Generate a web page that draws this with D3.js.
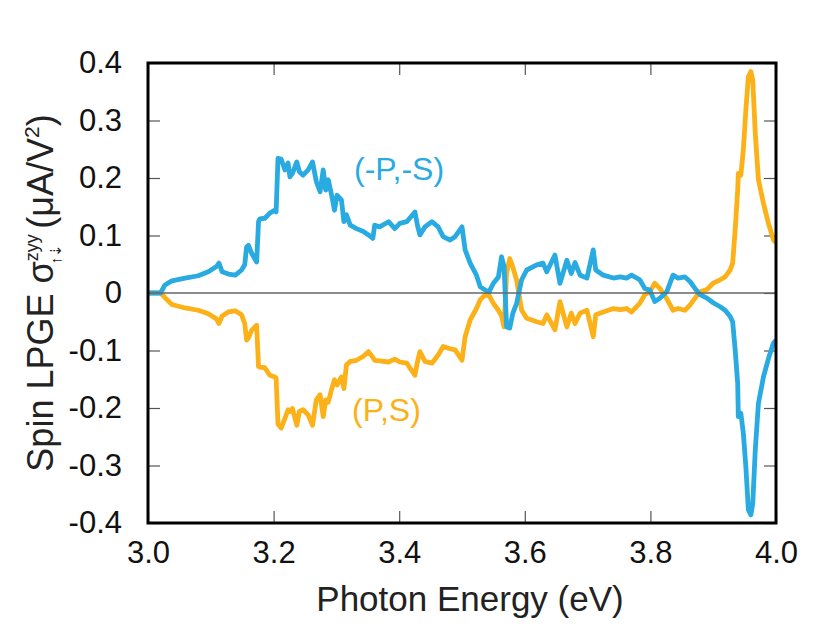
<!DOCTYPE html>
<html>
<head>
<meta charset="utf-8">
<script src="https://cdn.jsdelivr.net/npm/d3@7"></script>
<style>
  body { margin: 0; background: #fff; }
  text { font-family: "Liberation Sans", Arial, sans-serif; }
</style>
</head>
<body>
<div id="chart"></div>
<script>
// photon energy (eV)
const energy = [
  3.000, 3.020, 3.027, 3.038, 3.059, 3.080, 3.096, 3.109, 3.113, 3.118,
  3.128, 3.139, 3.149, 3.154, 3.157, 3.160, 3.165, 3.173, 3.176, 3.178,
  3.186, 3.194, 3.202, 3.204, 3.207, 3.212, 3.218, 3.223, 3.226, 3.230,
  3.237, 3.241, 3.247, 3.255, 3.262, 3.268, 3.274, 3.279, 3.283, 3.287,
  3.293, 3.297, 3.301, 3.308, 3.312, 3.316, 3.322, 3.332, 3.343, 3.351,
  3.358, 3.361, 3.369, 3.383, 3.393, 3.401, 3.412, 3.425, 3.429, 3.433,
  3.441, 3.452, 3.462, 3.470, 3.481, 3.489, 3.500, 3.505, 3.513, 3.523,
  3.529, 3.537, 3.543, 3.550, 3.558, 3.563, 3.567, 3.571, 3.576, 3.581,
  3.587, 3.595, 3.603, 3.619, 3.629, 3.635, 3.648, 3.656, 3.667, 3.674,
  3.680, 3.688, 3.699, 3.709, 3.713, 3.725, 3.741, 3.752, 3.762, 3.770,
  3.783, 3.791, 3.799, 3.807, 3.815, 3.826, 3.836, 3.844, 3.855, 3.863,
  3.871, 3.879, 3.890, 3.900, 3.911, 3.919, 3.927, 3.931, 3.935, 3.939,
  3.940, 3.944, 3.948, 3.952, 3.956, 3.960, 3.963, 3.967, 3.972, 3.980,
  3.988, 3.996, 4.000
];

// (-P,-S)
const sigmaMinus = [
  0.000, 0.000, 0.014, 0.021, 0.026, 0.030, 0.037, 0.046, 0.052, 0.037,
  0.033, 0.031, 0.040, 0.049, 0.080, 0.083, 0.069, 0.054, 0.124, 0.129,
  0.130, 0.139, 0.144, 0.141, 0.234, 0.233, 0.214, 0.226, 0.202, 0.208,
  0.228, 0.211, 0.205, 0.214, 0.228, 0.194, 0.176, 0.214, 0.179, 0.197,
  0.167, 0.144, 0.170, 0.162, 0.124, 0.136, 0.118, 0.112, 0.107, 0.101,
  0.095, 0.118, 0.115, 0.124, 0.112, 0.121, 0.124, 0.141, 0.118, 0.101,
  0.115, 0.124, 0.115, 0.098, 0.092, 0.098, 0.115, 0.075, 0.052, 0.031,
  0.011, 0.005, 0.002, 0.017, 0.028, 0.063, 0.046, -0.059, -0.061, -0.035,
  -0.018, 0.023, 0.040, 0.049, 0.052, 0.037, 0.066, 0.017, 0.057, 0.034,
  0.053, 0.031, 0.026, 0.075, 0.040, 0.031, 0.026, 0.028, 0.026, 0.031,
  0.023, 0.008, 0.005, -0.015, -0.009, 0.002, 0.031, 0.026, 0.028, 0.020,
  0.008, -0.003, -0.009, -0.017, -0.024, -0.030, -0.041, -0.050, -0.099, -0.157,
  -0.215, -0.209, -0.244, -0.302, -0.377, -0.386, -0.366, -0.273, -0.192, -0.146,
  -0.114, -0.087, -0.082
];

// (P,S)
const sigmaPlus = [
  0.000, 0.000, -0.008, -0.020, -0.026, -0.030, -0.036, -0.045, -0.053, -0.040,
  -0.033, -0.031, -0.038, -0.053, -0.082, -0.078, -0.065, -0.056, -0.128, -0.129,
  -0.130, -0.143, -0.146, -0.148, -0.228, -0.235, -0.218, -0.203, -0.206, -0.201,
  -0.230, -0.206, -0.203, -0.212, -0.230, -0.186, -0.177, -0.215, -0.186, -0.190,
  -0.165, -0.151, -0.160, -0.146, -0.166, -0.125, -0.119, -0.117, -0.110, -0.102,
  -0.112, -0.117, -0.118, -0.120, -0.115, -0.120, -0.122, -0.143, -0.120, -0.102,
  -0.119, -0.122, -0.108, -0.093, -0.097, -0.099, -0.117, -0.076, -0.047, -0.027,
  -0.012, -0.003, -0.004, -0.018, -0.030, -0.040, -0.059, 0.034, 0.060, 0.045,
  0.022, -0.030, -0.044, -0.050, -0.053, -0.038, -0.064, -0.015, -0.059, -0.035,
  -0.053, -0.035, -0.030, -0.076, -0.038, -0.033, -0.027, -0.029, -0.027, -0.033,
  -0.018, -0.003, 0.002, 0.017, 0.008, -0.010, -0.030, -0.027, -0.030, -0.021,
  -0.009, 0.002, 0.006, 0.017, 0.023, 0.028, 0.040, 0.052, 0.110, 0.179,
  0.208, 0.205, 0.249, 0.318, 0.376, 0.385, 0.370, 0.278, 0.197, 0.156,
  0.121, 0.092, 0.088
];

const xTicks = [3.0, 3.2, 3.4, 3.6, 3.8, 4.0];
const xTickLabels = ["3.0", "3.2", "3.4", "3.6", "3.8", "4.0"];
const yTicks = [-0.4, -0.3, -0.2, -0.1, 0, 0.1, 0.2, 0.3, 0.4];
const yTickLabels = ["-0.4", "-0.3", "-0.2", "-0.1", "0", "0.1", "0.2", "0.3", "0.4"];

const width = 831, height = 639;
const margin = { top: 63, right: 55, bottom: 116, left: 148 };
const iw = width - margin.left - margin.right;
const ih = height - margin.top - margin.bottom;

const BLUE = "#29abe2";
const ORANGE = "#fbb117";

const svg = d3.select("#chart").append("svg")
  .attr("width", width)
  .attr("height", height);

const g = svg.append("g")
  .attr("transform", `translate(${margin.left},${margin.top})`);

const x = d3.scaleLinear().domain([3.0, 4.0]).range([0, iw]);
const y = d3.scaleLinear().domain([-0.4, 0.4]).range([ih, 0]);

// ticks inward on all four sides
const tickLen = 12;
function styleAxis(sel) {
  sel.select(".domain").remove();
  sel.selectAll(".tick line").attr("stroke", "#555").attr("stroke-width", 1.2);
}

g.append("g")
  .attr("transform", `translate(0,${ih})`)
  .call(d3.axisBottom(x).tickValues(xTicks).tickSize(-tickLen)
    .tickFormat((d, i) => xTickLabels[i]).tickPadding(18))
  .call(styleAxis)
  .call(s => s.selectAll("text").attr("font-size", 31).attr("fill", "#111"));

g.append("g")
  .call(d3.axisTop(x).tickValues(xTicks).tickSize(-tickLen).tickFormat(""))
  .call(styleAxis);

g.append("g")
  .call(d3.axisLeft(y).tickValues(yTicks).tickSize(-tickLen)
    .tickFormat((d, i) => yTickLabels[i]).tickPadding(26))
  .call(styleAxis)
  .call(s => s.selectAll("text").attr("font-size", 31).attr("fill", "#111"));

g.append("g")
  .attr("transform", `translate(${iw},0)`)
  .call(d3.axisRight(y).tickValues(yTicks).tickSize(-tickLen).tickFormat(""))
  .call(styleAxis);

// curves
const rows = energy.map((e, i) => ({ e, minus: sigmaMinus[i], plus: sigmaPlus[i] }));

const linePlus = d3.line().x(d => x(d.e)).y(d => y(d.plus));
const lineMinus = d3.line().x(d => x(d.e)).y(d => y(d.minus));

g.append("path")
  .datum(rows)
  .attr("d", linePlus)
  .attr("fill", "none")
  .attr("stroke", ORANGE)
  .attr("stroke-width", 4.8)
  .attr("stroke-linejoin", "round");

g.append("path")
  .datum(rows)
  .attr("d", lineMinus)
  .attr("fill", "none")
  .attr("stroke", BLUE)
  .attr("stroke-width", 4.8)
  .attr("stroke-linejoin", "round");

// zero line
g.append("line")
  .attr("x1", 0).attr("x2", iw)
  .attr("y1", y(0)).attr("y2", y(0))
  .attr("stroke", "#666")
  .attr("stroke-width", 1.5);

// frame
g.append("rect")
  .attr("width", iw).attr("height", ih)
  .attr("fill", "none")
  .attr("stroke", "#000")
  .attr("stroke-width", 3);

// series labels
g.append("text")
  .attr("x", x(3.328)).attr("y", y(0.196))
  .attr("font-size", 32)
  .attr("fill", BLUE)
  .text("(-P,-S)");

g.append("text")
  .attr("x", x(3.325)).attr("y", y(-0.222))
  .attr("font-size", 32)
  .attr("fill", ORANGE)
  .text("(P,S)");

// axis titles
svg.append("text")
  .attr("x", margin.left + iw / 2 + 8)
  .attr("y", 611)
  .attr("text-anchor", "middle")
  .attr("font-size", 35)
  .attr("fill", "#222")
  .text("Photon Energy (eV)");

const yt = svg.append("text")
  .attr("transform", `translate(53,${margin.top + ih / 2}) rotate(-90)`)
  .attr("text-anchor", "middle")
  .attr("font-size", 36)
  .attr("fill", "#222");
yt.append("tspan").text("Spin LPGE σ");
yt.append("tspan").attr("font-size", 18).attr("dy", -15).text("zyy");
yt.append("tspan").attr("font-size", 15).attr("dx", -30).attr("dy", 23).text("↑⇣");
yt.append("tspan").attr("dx", 15).attr("dy", -8).text("(μA/V");
yt.append("tspan").attr("font-size", 21).attr("dy", -14).text("2");
yt.append("tspan").attr("dy", 14).text(")");
</script>
</body>
</html>
